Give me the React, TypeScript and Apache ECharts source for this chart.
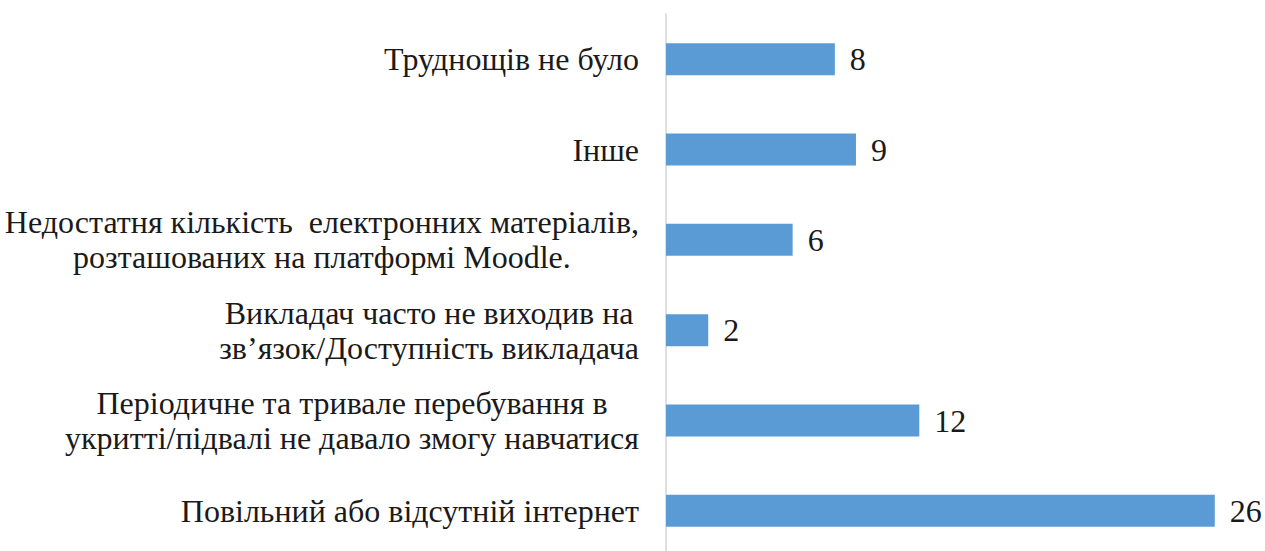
import React, { useEffect, useRef } from "react";
import * as echarts from "echarts";

const categories = [
  "Повільний або відсутній інтернет",
  "Періодичне та тривале перебування в\nукритті/підвалі не давало змогу навчатися",
  "Викладач часто не виходив на\nзв’язок/Доступність викладача",
  "Недостатня кількість  електронних матеріалів,\nрозташованих на платформі Moodle.",
  "Інше",
  "Труднощів не було",
];
const values = [26, 12, 2, 6, 9, 8];

const FONT = "Times New Roman";
const TEXT_COLOR = "#1a1a1a";

export default function App() {
  const ref = useRef<HTMLDivElement>(null);
  useEffect(() => {
    if (!ref.current) return;
    const chart = echarts.init(ref.current, undefined, { renderer: "svg" });
    chart.setOption({
      animation: false,
      backgroundColor: "#ffffff",
      textStyle: { fontFamily: FONT },
      grid: {
        left: 666,
        width: 591,
        top: 14,
        height: 542,
        containLabel: false,
        outerBoundsMode: "none",
      },
      xAxis: { type: "value", min: 0, max: 28, show: false },
      yAxis: {
        type: "category",
        data: categories,
        axisLine: { show: true, lineStyle: { color: "#d4d4d4", width: 1.5 } },
        axisTick: { show: false },
        axisLabel: {
          margin: 27,
          align: "right",
          fontFamily: FONT,
          fontSize: 32,
          formatter: (v: string) => v.split("\n").map((l) => "{c|" + l + "}").join("\n"),
          rich: { c: { fontFamily: FONT, fontSize: 32, lineHeight: 35, color: TEXT_COLOR, align: "center" } },
        },
      },
      series: [
        {
          type: "bar",
          data: values,
          barWidth: 32,
          itemStyle: { color: "#5b9bd5" },
          label: {
            show: true,
            position: "right",
            distance: 15,
            fontFamily: FONT,
            fontSize: 32,
            color: TEXT_COLOR,
          },
        },
      ],
    });
    return () => chart.dispose();
  }, []);
  return <div ref={ref} style={{ position: "fixed", left: 0, top: 0, width: 1265, height: 551 }} />;
}
